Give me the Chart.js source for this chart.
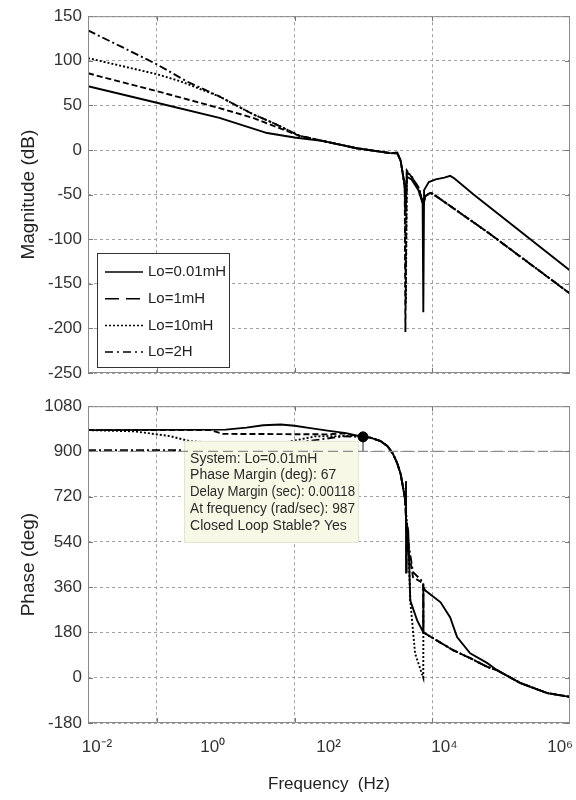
<!DOCTYPE html>
<html>
<head>
<meta charset="utf-8">
<script src="https://cdn.jsdelivr.net/npm/chart.js@4/dist/chart.umd.min.js"></script>
<style>
body { margin: 0; background: #fff; }
canvas { position: absolute; left: 0; }
#magChart { top: 0; }
#phaseChart { top: 390px; }
</style>
</head>
<body>
<canvas id="magChart" width="576" height="390"></canvas>
<canvas id="phaseChart" width="576" height="410"></canvas>
<script>
// series names
var names = ['Lo=0.01mH', 'Lo=1mH', 'Lo=10mH', 'Lo=2H']

// magnitude (dB)
var magF1 = [0.1, 1, 8.1, 40, 100, 263, 794, 2455, 3100, 3470, 3980, 4070, 4270, 5000, 6300, 7240, 7410, 7600, 8900, 11200, 15000, 18200, 21000, 39800, 1e6]
var mag1 = [71.5, 53, 36, 19, 14, 10, 2, -3.5, -4, -12, -40, -70, -30, -33, -45, -60, -182, -45, -36, -33, -31, -29, -32, -50, -135]
var magF2 = [0.1, 1, 8.1, 25, 117, 263, 794, 2455, 3100, 3470, 3980, 4070, 4270, 5000, 6300, 7240, 7410, 7900, 9300, 10000, 12000, 63100, 1e6]
var mag2 = [86, 66, 47, 36, 16, 10, 2, -3.5, -3, -12, -40, -204, -24, -30, -42, -58, -62, -52, -48, -49, -53, -92, -161]
var magF3 = [0.1, 1, 2.2, 8.1, 25, 50, 117, 263, 794, 2455, 3100, 3470, 3980, 4130, 4270, 5000, 6300, 7240, 7410, 7900, 9300, 10000, 12000, 63100, 1e6]
var mag3 = [103, 85, 77, 60, 40, 30, 16, 10, 2, -3.5, -3, -12, -40, -173, -23, -30, -42, -58, -60, -52, -48, -49, -53, -92, -161]
var magF4 = [0.1, 0.32, 1, 2.7, 8.1, 25, 50, 117, 263, 794, 2455, 3100, 3470, 3980, 4070, 4270, 5000, 6300, 7240, 7410, 7900, 9300, 10000, 12000, 63100, 1e6]
var mag4 = [134, 115, 96, 77, 60, 40, 30, 16, 10, 2, -3.5, -3, -12, -40, -70, -25, -30, -42, -58, -62, -52, -48, -49, -53, -92, -161]

// phase (deg)
var phF1 = [0.1, 10, 20, 35, 63, 100, 160, 300, 560, 987, 1260, 1780, 2240, 2690, 3090, 3470, 3980, 4070, 4150, 4170, 4200, 4470, 4790, 6030, 7400, 7420, 7940, 13200, 18200, 22900, 35500, 63100, 87100, 190500, 467700, 1e6]
var ph1 = [985, 987, 995, 1004, 1007, 1002, 994, 983, 973, 958, 955, 941, 921, 890, 854, 810, 720, 690, 782, 418, 620, 585, 307, 228, 181, 360, 347, 300, 240, 162, 97, 58, 30, -21, -61, -76]
var phF2 = [0.1, 6, 9, 300, 500, 987, 1260, 1780, 2240, 2690, 3090, 3470, 3980, 4070, 4200, 4220, 4300, 4470, 5250, 7400, 7420, 8000, 19950, 35500, 63100, 87100, 190500, 467700, 1e6]
var ph2 = [985, 985, 970, 968, 972, 958, 955, 941, 921, 890, 854, 810, 720, 690, 600, 418, 560, 517, 400, 375, 181, 175, 110, 78, 43, 30, -21, -61, -76]
var phF3 = [0.1, 0.47, 1.55, 3, 10, 80, 200, 790, 987, 1260, 1780, 2240, 2690, 3090, 3470, 3980, 4070, 4470, 4790, 5620, 7400, 7420, 8000, 19950, 35500, 63100, 87100, 190500, 467700, 1e6]
var ph3 = [985, 980, 961, 941, 932, 938, 960, 962, 958, 955, 941, 921, 890, 854, 810, 720, 690, 560, 307, 97, 0, 181, 175, 110, 78, 43, 30, -21, -61, -76]
var phF4 = [0.1, 2.8, 30, 200, 500, 987, 1260, 1780, 2240, 2690, 3090, 3470, 3980, 4070, 4200, 4470, 5250, 7400, 7420, 8000, 19950, 35500, 63100, 87100, 190500, 467700, 1e6]
var ph4 = [905, 905, 915, 945, 960, 958, 955, 941, 921, 890, 854, 810, 720, 690, 600, 540, 420, 380, 181, 175, 110, 78, 43, 30, -21, -61, -76]

// phase margin point and the -180 (mod 360) level
var pmFreq = 987
var pmPhase = 958
var pmLevel = 900

// axis ticks
var gridFreqs = [1, 100, 10000]
var tickPowers = [0.01, 1, 100, 10000, 1000000]
var tickText = ['10\u207B\u00B2', '10\u2070', '10\u00B2', '10\u2074', '10\u2076']
var tipLines = ['System: Lo=0.01mH', 'Phase Margin (deg): 67', 'Delay Margin (sec): 0.00118', 'At frequency (rad/sec): 987', 'Closed Loop Stable? Yes']

Chart.defaults.font.family = "'Liberation Sans', Arial, sans-serif"
Chart.defaults.color = '#333'

function pts(f, v) {
  return f.map(function (x, i) { return { x: x, y: v[i] } })
}

var dashes = [[], [6, 3], [2, 2], [8, 3, 2, 3]]
var legendDashes = [[], [14, 7], [2, 2], [8, 4, 2, 4]]

function curve(i, f, v) {
  return {
    label: names[i],
    data: pts(f, v),
    borderColor: '#000',
    borderWidth: 1.9,
    borderDash: dashes[i],
    pointRadius: 0,
    tension: 0,
    fill: false
  }
}

// box round the axes plus small inward ticks
var framePlugin = {
  id: 'frame',
  afterDatasetsDraw: function (chart) {
    var a = chart.chartArea, c = chart.ctx
    var xs = chart.scales.x, ys = chart.scales.y
    c.save()
    c.strokeStyle = '#777'
    c.lineWidth = 1
    c.setLineDash([])
    c.beginPath()
    ys.ticks.forEach(function (t) {
      var y = Math.round(ys.getPixelForValue(t.value)) + 0.5
      c.moveTo(a.left, y); c.lineTo(a.left + 5, y)
      c.moveTo(a.right - 5, y); c.lineTo(a.right, y)
    })
    xs.ticks.forEach(function (t) {
      var x = Math.round(xs.getPixelForValue(t.value)) + 0.5
      c.moveTo(x, a.top); c.lineTo(x, a.top + 5)
      c.moveTo(x, a.bottom - 5); c.lineTo(x, a.bottom)
    })
    c.stroke()
    c.strokeStyle = '#8a8a8a'
    c.strokeRect(a.left + 0.5, a.top + 0.5, a.right - a.left - 1, a.bottom - a.top - 1)
    c.restore()
  }
}

var legendPlugin = {
  id: 'boxLegend',
  afterDatasetsDraw: function (chart) {
    var a = chart.chartArea, c = chart.ctx
    var w = 132, h = 114
    var left = a.left + 9, top = a.bottom - 6 - h
    c.save()
    c.fillStyle = '#fff'
    c.fillRect(left, top, w, h)
    c.strokeStyle = '#333'
    c.lineWidth = 1
    c.strokeRect(left + 0.5, top + 0.5, w, h)
    c.font = "15px 'Liberation Sans', Arial, sans-serif"
    c.textBaseline = 'middle'
    chart.data.datasets.forEach(function (ds, i) {
      var y = top + 19 + i * 26.7
      c.strokeStyle = '#000'
      c.lineWidth = 1.5
      c.setLineDash(legendDashes[i])
      c.beginPath()
      c.moveTo(left + 8, y); c.lineTo(left + 46, y)
      c.stroke()
      c.fillStyle = '#222'
      c.fillText(ds.label, left + 51, y)
    })
    c.restore()
  }
}

// data tip, drawn under the margin line and marker
var tipPlugin = {
  id: 'dataTip',
  beforeDatasetDraw: function (chart, args) {
    if (args.index !== 2) return
    var c = chart.ctx
    var mx = chart.scales.x.getPixelForValue(pmFreq)
    var my = chart.scales.y.getPixelForValue(pmPhase)
    var right = mx - 4, left = right - 175, top = my + 4, h = 102
    c.save()
    c.fillStyle = '#f8f8e6'
    c.fillRect(left, top, right - left, h)
    c.strokeStyle = '#e4e4d0'
    c.strokeRect(left + 0.5, top + 0.5, right - left - 1, h - 1)
    c.font = "14px 'Liberation Sans Narrow', 'Liberation Sans', Arial, sans-serif"
    c.fillStyle = '#2a2a2a'
    c.textBaseline = 'middle'
    tipLines.forEach(function (t, i) {
      c.fillText(t, left + 6, top + 18 + i * 16.7, right - left - 10)
    })
    c.restore()
  }
}

function yAxis(min, max, step, title) {
  return {
    min: min, max: max,
    ticks: { stepSize: step, padding: 6, font: { size: 17 }, color: '#333', callback: function (v) { return String(v) } },
    grid: { color: '#a0a0a0', drawTicks: false },
    border: { display: false, dash: [3, 3] },
    title: { display: true, text: title, font: { size: 19 }, color: '#222', padding: { top: 17, bottom: 0 } },
    afterFit: function (s) { s.width = 88 }
  }
}

function xAxis(h) {
  return {
    type: 'logarithmic',
    min: 0.1, max: 1e6,
    bounds: 'data',
    ticks: { display: false },
    grid: { color: '#a0a0a0', drawTicks: false },
    border: { display: false, dash: [3, 3] },
    afterBuildTicks: function (s) { s.ticks = gridFreqs.map(function (v) { return { value: v } }) },
    afterFit: function (s) { s.height = h }
  }
}

new Chart(document.getElementById('magChart'), {
  type: 'line',
  data: {
    datasets: [
      curve(0, magF1, mag1),
      curve(1, magF2, mag2),
      curve(2, magF3, mag3),
      curve(3, magF4, mag4)
    ]
  },
  options: {
    responsive: false,
    animation: false,
    devicePixelRatio: 1,
    layout: { padding: { top: 15, right: 6, bottom: 0, left: 0 } },
    plugins: { legend: { display: false }, tooltip: { enabled: false } },
    scales: {
      x: xAxis(17),
      y: yAxis(-250, 150, 50, 'Magnitude (dB)')
    }
  },
  plugins: [framePlugin, legendPlugin]
})

new Chart(document.getElementById('phaseChart'), {
  type: 'line',
  data: {
    datasets: [
      { label: 'margin point', data: [{ x: pmFreq, y: pmPhase }], pointRadius: 5, pointBackgroundColor: '#000', pointBorderColor: '#000', showLine: false },
      { label: 'margin drop', data: [{ x: pmFreq, y: pmPhase }, { x: pmFreq, y: pmLevel }], borderColor: '#8c8c8c', borderWidth: 2, pointRadius: 0 },
      { label: 'margin level', data: [{ x: 0.1, y: pmLevel }, { x: 1e6, y: pmLevel }], borderColor: '#8c8c8c', borderWidth: 1.2, borderDash: [10, 5], pointRadius: 0 },
      curve(0, phF1, ph1),
      curve(1, phF2, ph2),
      curve(2, phF3, ph3),
      curve(3, phF4, ph4)
    ]
  },
  options: {
    responsive: false,
    animation: false,
    devicePixelRatio: 1,
    layout: { padding: { top: 15, right: 6, bottom: 1, left: 0 } },
    plugins: { legend: { display: false }, tooltip: { enabled: false } },
    scales: {
      x: xAxis(0),
      xl: {
        type: 'logarithmic',
        position: 'bottom',
        min: 0.007, max: 1.48e6,
        bounds: 'data',
        grid: { display: false, drawTicks: false },
        border: { display: false },
        afterBuildTicks: function (s) { s.ticks = tickPowers.map(function (v) { return { value: v } }) },
        ticks: {
          padding: 14, autoSkip: false, maxRotation: 0, font: { size: 17 }, color: '#333',
          callback: function (v, i) { return tickText[i] }
        },
        title: { display: true, text: 'Frequency  (Hz)', font: { size: 17 }, color: '#222' },
        afterFit: function (s) { s.height = 76; s.paddingLeft = 0; s.paddingRight = 0 }
      },
      y: yAxis(-180, 1080, 180, 'Phase (deg)')
    }
  },
  plugins: [framePlugin, tipPlugin]
})
</script>
</body>
</html>
